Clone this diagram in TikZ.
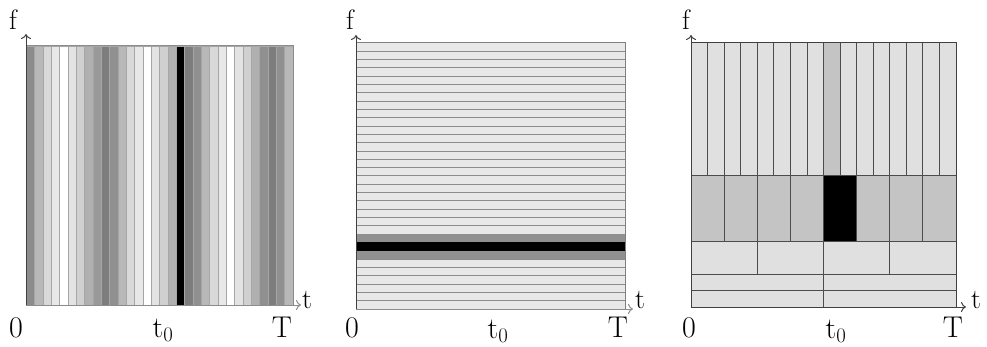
\documentclass[tikz,border=0pt]{standalone}
\usetikzlibrary{arrows.meta}
\begin{document}
\begin{tikzpicture}[x=1pt,y=-1pt,
  axis/.style={line width=1pt, draw=black!75, -{To[length=5pt,width=10pt]}},
  lbl/.style={font=\fontsize{30}{32}\selectfont, inner sep=0pt, anchor=base},
  axlbl/.style={font=\fontsize{28}{30}\selectfont, inner sep=0pt, anchor=base},
  cell/.style={draw=black!70, line width=0.8pt},
  ]
\useasboundingbox (0,0) rectangle (987,347);
% ---------------- Panel 1: time-domain stripes
\foreach \v [count=\i from 0] in {0.55,0.72,0.85,0.91,1,0.89,0.815,0.69,0.6,0.49,0.565,0.72,0.85,0.91,1,0.89,0.815,0.69,0,0.49,0.565,0.72,0.85,0.91,1,0.89,0.815,0.69,0.565,0.49,0.565,0.72} {
  \definecolor{stc}{gray}{\v}
  \filldraw[fill=stc, draw=black!35, line width=0.35pt] ({26+\i*8.344},46) rectangle ({26+(\i+1)*8.344},305);
}
\draw[black!45, line width=1pt] (26,46) rectangle (293,305);
\coordinate (o1) at (26,305);
\coordinate (f1) at (26,34);
\coordinate (t1) at (301,305);
\draw[axis] (o1) -- (f1);
\draw[axis, draw=black!45] (o1) -- (t1);
\node[axlbl] (lf1) at (13,30) {f};
\node[axlbl] (lt1) at (307,308) {t};
\node[lbl] (l01) at (16,337) {0};
\node[lbl] (lt01) at (163,337) {t$_0$};
\node[lbl] (lT1) at (282,337) {T};
% ---------------- Panel 2: frequency-domain bands
\definecolor{bandlight}{gray}{0.91}
\definecolor{bandmid}{gray}{0.565}
\fill[bandlight] (356,43) rectangle (625,309);
\foreach \k in {1,...,31}
  \draw[black!45, line width=1pt] (356,{43+\k*8.3125}) -- (625,{43+\k*8.3125});
\fill[bandmid] (356,{43+23*8.3125}) rectangle (625,{43+24*8.3125});
\fill[bandmid] (356,{43+25*8.3125}) rectangle (625,{43+26*8.3125});
\fill[black] (356,{43+24*8.3125}) rectangle (625,{43+25*8.3125});
\draw[black!50, line width=1pt] (356,43) rectangle (625,309);
\coordinate (o2) at (356,309);
\coordinate (f2) at (356,35);
\coordinate (t2) at (633,309);
\draw[axis] (o2) -- (f2);
\draw[axis, draw=black!45] (o2) -- (t2);
\node[axlbl] (lf2) at (350,30) {f};
\node[axlbl] (lt2) at (640,308) {t};
\node[lbl] (l02) at (352,337) {0};
\node[lbl] (lt02) at (498,338) {t$_0$};
\node[lbl] (lT2) at (618,337) {T};
% ---------------- Panel 3: wavelet tiling
\definecolor{tilelight}{gray}{0.88}
\definecolor{tilemid}{gray}{0.77}
\fill[tilelight] (691,43) rectangle (956,307);
\fill[tilemid] ({691+8*16.5625},43) rectangle ({691+9*16.5625},175);
\fill[tilemid] (691,175) rectangle (956,241);
\fill[black] ({691+4*33.125},175) rectangle ({691+5*33.125},241);
\foreach \k in {1,...,15}
  \draw[cell] ({691+\k*16.5625},43) -- ({691+\k*16.5625},175);
\foreach \k in {1,...,7}
  \draw[cell] ({691+\k*33.125},175) -- ({691+\k*33.125},241);
\foreach \k in {1,...,3}
  \draw[cell] ({691+\k*66.25},241) -- ({691+\k*66.25},274);
\draw[cell] (823.5,274) -- (823.5,307);
\foreach \yy in {175,241,274,290.5}
  \draw[cell] (691,\yy) -- (956,\yy);
\draw[black!75, line width=1pt] (691,43) rectangle (956,307);
\coordinate (o3) at (691,307);
\coordinate (f3) at (691,35);
\coordinate (t3) at (966,307);
\draw[axis] (o3) -- (f3);
\draw[axis] (o3) -- (t3);
\node[axlbl] (lf3) at (686,30) {f};
\node[axlbl] (lt3) at (976,308) {t};
\node[lbl] (l03) at (689,337) {0};
\node[lbl] (lt03) at (836,338) {t$_0$};
\node[lbl] (lT3) at (953,337) {T};
\end{tikzpicture}
\end{document}
